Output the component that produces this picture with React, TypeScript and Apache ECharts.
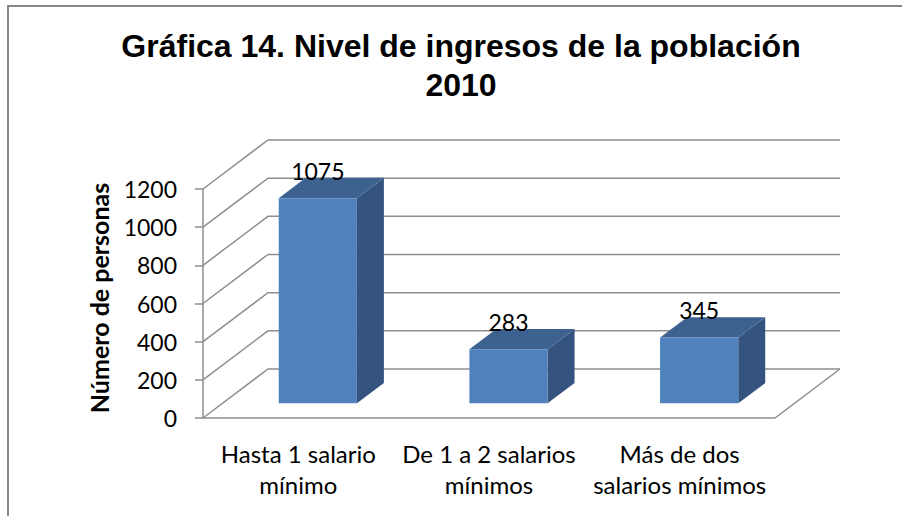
import React, { useEffect, useRef } from "react";
import * as echarts from "echarts";

const categories = ["Hasta 1 salario\nmínimo", "De 1 a 2 salarios\nmínimos", "Más de dos\nsalarios mínimos"];
const values = [1075, 283, 345];
const yTicks = [0, 200, 400, 600, 800, 1000, 1200];
const titleText = "Gráfica 14. Nivel de ingresos de la población\n2010";
const yName = "Número de personas";

const DX = 65;
const DY = -49;
const GRID = "#8e8e8e";
const FONT = "Lato, 'Open Sans', sans-serif";

export default function App() {
  const ref = useRef<HTMLDivElement>(null);
  useEffect(() => {
    if (!ref.current) return;
    const chart = echarts.init(ref.current, undefined, { renderer: "svg" });
    const barData = values.map((v, i) => [i, v]);
    const tickData = yTicks.map((v) => [0, v]);
    chart.setOption({
      animation: false,
      backgroundColor: "#ffffff",
      grid: { left: 203, right: 127, top: 189, bottom: 98 },
      xAxis: {
        type: "category",
        data: categories,
        axisLine: { show: false },
        axisTick: { show: false },
        axisLabel: {
          margin: 20,
          color: "#000",
          fontFamily: FONT,
          fontSize: 24,
          lineHeight: 31,
          interval: 0,
        },
      },
      yAxis: {
        type: "value",
        min: 0,
        max: 1200,
        interval: 200,
        splitLine: { show: false },
        axisLine: { show: true, lineStyle: { color: GRID, width: 1.5 } },
        axisTick: { show: true, length: 8, lineStyle: { color: GRID, width: 1.5 } },
        axisLabel: {
          margin: 26,
          color: "#000",
          fontFamily: FONT,
          fontSize: 23,
          formatter: (v: number) => String(v),
        },
      },
      graphic: [
        {
          type: "rect",
          silent: true,
          shape: { x: 8, y: 6, width: 1000, height: 1000 },
          style: { fill: "none", stroke: "#868686", lineWidth: 2 },
        },
        {
          type: "text",
          style: {
            text: titleText,
            x: 461,
            y: 65,
            align: "center",
            verticalAlign: "middle",
            textAlign: "center",
            textVerticalAlign: "middle",
            fontFamily: "'Liberation Sans', Arial, sans-serif",
            fontWeight: "bold",
            fontSize: 32,
            lineHeight: 39,
            fill: "#000",
          },
        },
        {
          type: "text",
          x: 99,
          y: 298,
          rotation: Math.PI / 2,
          style: {
            text: yName,
            x: 0,
            y: 0,
            align: "center",
            verticalAlign: "middle",
            textAlign: "center",
            textVerticalAlign: "middle",
            fontFamily: FONT,
            fontWeight: "bold",
            fontSize: 25,
            fill: "#000",
          },
        },
      ],
      series: [
        {
          type: "custom",
          name: "walls",
          silent: true,
          clip: false,
          z: 1,
          data: tickData,
          encode: { x: 0, y: 1 },
          renderItem: (params: any, api: any) => {
            const cs = params.coordSys;
            const gx = cs.x;
            const gw = cs.width;
            const v = api.value(1);
            const y = api.coord([0, v])[1];
            const children: any[] = [
              {
                type: "polyline",
                shape: { points: [[gx, y], [gx + DX, y + DY], [gx + gw + DX, y + DY]] },
                style: { stroke: GRID, lineWidth: 1.5, fill: "none" },
              },
            ];
            if (v === 0) {
              children.push({
                type: "polyline",
                shape: { points: [[gx, y], [gx + gw, y], [gx + gw + DX, y + DY]] },
                style: { stroke: GRID, lineWidth: 1.5, fill: "none" },
              });
            }
            return { type: "group", children };
          },
        },
        {
          type: "custom",
          name: "Nivel de ingresos",
          clip: false,
          z: 5,
          data: barData,
          encode: { x: 0, y: 1 },
          renderItem: (params: any, api: any) => {
            const i = api.value(0);
            const v = api.value(1);
            const top = api.coord([i, v]);
            const base = api.coord([i, 0]);
            const band = api.size([1, 0])[0];
            const w = band * 0.41;
            const f0 = 0.3;
            const f1 = 0.715;
            const x0 = top[0] - w / 2 + f0 * DX;
            const x1 = x0 + w;
            const yt = top[1] + f0 * DY;
            const yb = base[1] + f0 * DY;
            const ddx = (f1 - f0) * DX;
            const ddy = (f1 - f0) * DY;
            return {
              type: "group",
              children: [
                {
                  type: "polygon",
                  shape: { points: [[x1, yt], [x1 + ddx, yt + ddy], [x1 + ddx, yb + ddy], [x1, yb]] },
                  style: { fill: "#34547f" },
                },
                {
                  type: "polygon",
                  shape: { points: [[x0, yt], [x1, yt], [x1 + ddx, yt + ddy], [x0 + ddx, yt + ddy]] },
                  style: { fill: "#3d6290" },
                },
                {
                  type: "rect",
                  shape: { x: x0, y: yt, width: w, height: yb - yt },
                  style: { fill: "#4f81bd" },
                },
                {
                  type: "text",
                  style: {
                    text: String(v),
                    x: (x0 + x1) / 2,
                    y: yt - 27,
                    align: "center",
                    verticalAlign: "middle",
                    textAlign: "center",
                    textVerticalAlign: "middle",
                    fontFamily: FONT,
                    fontSize: 23,
                    fill: "#000",
                  },
                },
              ],
            };
          },
        },
      ],
    });
    return () => chart.dispose();
  }, []);
  return (
    <div
      ref={ref}
      style={{ position: "fixed", left: 0, top: 0, width: 902, height: 516, background: "#fff" }}
    />
  );
}
